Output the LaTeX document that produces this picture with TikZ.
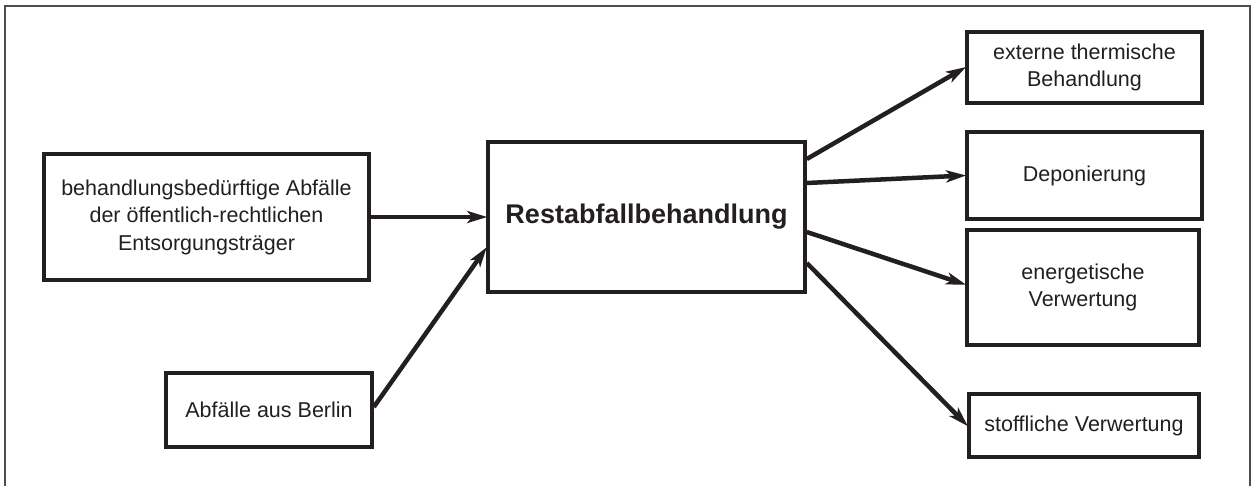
\documentclass[tikz,border=0pt]{standalone}
\usepackage{fontspec}
\setmainfont{Liberation Sans}
\usetikzlibrary{arrows.meta}
\definecolor{ink}{HTML}{231F20}
\tikzset{
  box/.style={draw=ink, line width=3.6pt, inner sep=0pt, align=center, text=ink,
    font=\fontsize{21.5}{27.5}\selectfont},
  arr/.style={draw=ink, line width=4.5pt, -{Stealth[length=20pt,width=12pt,inset=5pt]}, shorten >=-1pt},
}
\begin{document}
\begin{tikzpicture}[x=1pt,y=-1pt]
\useasboundingbox (0,0) rectangle (1252,486);
\draw[line width=1.6pt, ink!80] (5,486) -- (5,6) -- (1250,6) -- (1250,486);
\node[box, minimum width=325pt, minimum height=126pt] (b1) at (206.5,217)
  {behandlungsbedürftige Abfälle\\der öffentlich-rechtlichen\\Entsorgungsträger};
\node[box, minimum width=206pt, minimum height=74pt] (b2) at (269,410) {Abfälle aus Berlin};
\node[box, minimum width=317pt, minimum height=150pt, font=\fontsize{27}{30}\selectfont\bfseries] (c) at (646.5,217) {Restabfallbehandlung};
\node[box, minimum width=235pt, minimum height=71pt] (r1) at (1084.5,67.5) {externe thermische\\Behandlung};
\node[box, minimum width=235pt, minimum height=87pt] (r2) at (1084.5,175.5) {Deponierung};
\node[box, minimum width=232pt, minimum height=115pt] (r3) at (1083,287.5) {energetische\\Verwertung};
\node[box, minimum width=230pt, minimum height=63pt] (r4) at (1084,425.5) {stoffliche Verwertung};
\draw[arr] (b1.east) -- (c.west);
\draw[arr] ([yshift=3pt]b2.east) -- ([yshift=-31pt]c.west);
\draw[arr] ([yshift=58pt]c.east) -- (r1.west);
\draw[arr] ([yshift=34pt]c.east) -- (r2.west);
\draw[arr] ([yshift=-15pt]c.east) -- ([yshift=3pt]r3.west);
\draw[arr] ([yshift=-46pt]c.east) -- (r4.west);
\end{tikzpicture}
\end{document}
